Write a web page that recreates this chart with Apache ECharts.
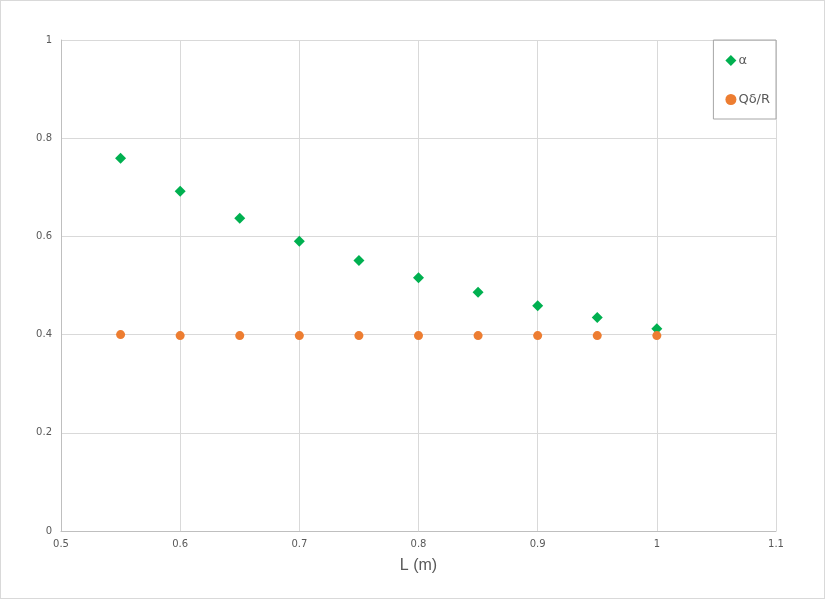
<!DOCTYPE html>
<html>
<head>
<meta charset="utf-8">
<script src="https://cdn.jsdelivr.net/npm/echarts@6/dist/echarts.min.js"></script>
<style>
  html, body { margin: 0; padding: 0; background: #fff; }
  #chart { width: 823px; height: 597px; border: 1px solid #d9d9d9; }
</style>
</head>
<body>
<div id="chart"></div>
<script>
// L (m)
const lengths = [0.55, 0.6, 0.65, 0.7, 0.75, 0.8, 0.85, 0.9, 0.95, 1.0];
// α
const alphaValues = [0.759, 0.692, 0.637, 0.590, 0.551, 0.516, 0.486, 0.459, 0.435, 0.412];
// Qδ/R
const qdrValues = [0.400, 0.398, 0.398, 0.398, 0.398, 0.398, 0.398, 0.398, 0.398, 0.398];

const toPairs = (xs, ys) => xs.map((x, i) => [x, ys[i]]);

const chart = echarts.init(document.getElementById('chart'));
const option = {
  backgroundColor: '#fff',
  animation: false,
  grid: { left: 60, right: 48, top: 39, bottom: 67 },
  legend: {
    orient: 'vertical',
    right: 48,
    top: 39,
    padding: [14, 6, 13, 12],
    itemGap: 26,
    itemWidth: 11,
    itemHeight: 11,
    borderColor: '#a6a6a6',
    borderWidth: 1,
    textStyle: { color: '#595959', fontSize: 13, fontFamily: 'DejaVu Sans', padding: [0, 0, 0, -3] },
    data: [
      { name: 'α', icon: 'diamond' },
      { name: 'Qδ/R', icon: 'circle' }
    ]
  },
  xAxis: {
    type: 'value',
    min: 0.5,
    max: 1.1,
    interval: 0.1,
    name: 'L (m)',
    nameLocation: 'middle',
    nameGap: 27,
    nameTextStyle: { color: '#595959', fontSize: 16, fontFamily: 'Liberation Sans' },
    axisLine: { show: true, lineStyle: { color: '#bfbfbf' } },
    axisTick: { show: false },
    axisLabel: {
      color: '#595959', fontSize: 10, fontFamily: 'DejaVu Sans', margin: 8,
      formatter: v => String(Math.round(v * 10) / 10)
    },
    splitLine: { show: true, lineStyle: { color: '#d9d9d9' } }
  },
  yAxis: {
    type: 'value',
    min: 0,
    max: 1,
    interval: 0.2,
    axisLine: { show: true, lineStyle: { color: '#bfbfbf' } },
    axisTick: { show: false },
    axisLabel: {
      color: '#595959', fontSize: 10, fontFamily: 'DejaVu Sans', margin: 9,
      formatter: v => String(Math.round(v * 10) / 10)
    },
    splitLine: { show: true, lineStyle: { color: '#d9d9d9' } }
  },
  series: [
    {
      name: 'α',
      type: 'scatter',
      symbol: 'diamond',
      symbolSize: 11,
      itemStyle: { color: '#00b050', opacity: 1 },
      data: toPairs(lengths, alphaValues)
    },
    {
      name: 'Qδ/R',
      type: 'scatter',
      symbol: 'circle',
      symbolSize: 9,
      itemStyle: { color: '#ed7d31', opacity: 1 },
      data: toPairs(lengths, qdrValues)
    }
  ]
};
chart.setOption(option);
</script>
</body>
</html>
